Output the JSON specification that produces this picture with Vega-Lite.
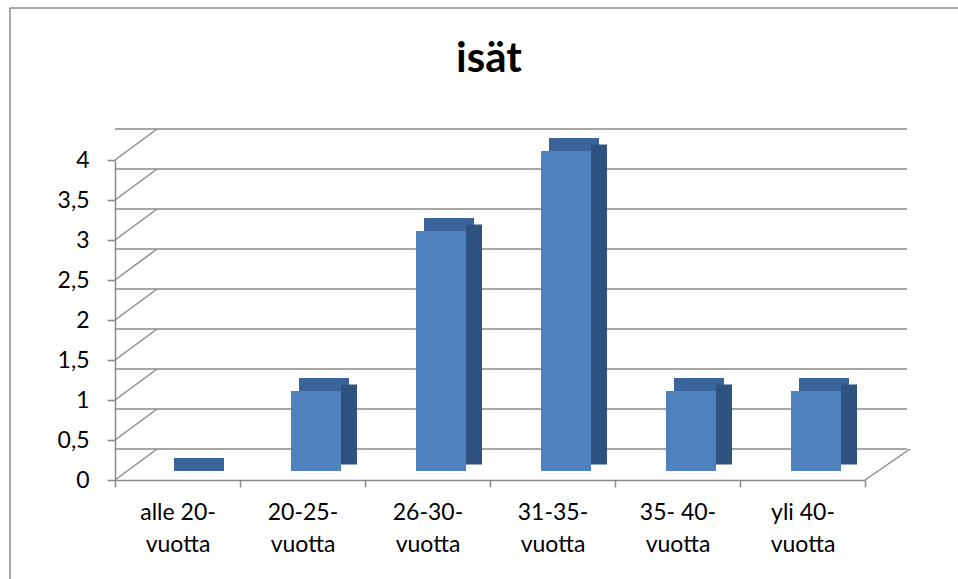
{
  "$schema": "https://vega.github.io/schema/vega-lite/v6.json",
  "width": 750,
  "height": 320,
  "autosize": "none",
  "padding": {"left": 115, "top": 160, "right": 93, "bottom": 99},
  "background": "white",
  "config": {
    "view": {"stroke": null},
    "font": "Lato",
    "axisX": {
      "labelAngle": 0, "tickBand": "extent",
      "labelFont": "Lato", "labelFontSize": 23, "labelColor": "#000000",
      "labelLineHeight": 32, "labelPadding": 14, "labelBaseline": "top",
      "labelOverlap": false,
      "domainColor": "#8a8a8a", "domainWidth": 1.5,
      "tickColor": "#8a8a8a", "tickWidth": 1.5, "tickSize": 7,
      "grid": false
    },
    "axisY": {
      "labelFont": "Lato", "labelFontSize": 23, "labelColor": "#000000",
      "labelPadding": 18, "labelOverlap": false,
      "domainColor": "#8a8a8a", "domainWidth": 1.5,
      "tickColor": "#8a8a8a", "tickWidth": 1.5, "tickSize": 8,
      "grid": false
    }
  },
  "title": {"text": "isät", "fontSize": 42, "fontWeight": "bold", "font": "Lato", "color": "#000000", "offset": -74, "dx": -1},
  "datasets": {
    "bars": [
      {"cat": "alle 20-vuotta", "v": 0},
      {"cat": "20-25-vuotta", "v": 1},
      {"cat": "26-30-vuotta", "v": 3},
      {"cat": "31-35-vuotta", "v": 4},
      {"cat": "35- 40-vuotta", "v": 1},
      {"cat": "yli 40-vuotta", "v": 1}
    ],
    "ticks": [
      {"t": 0}, {"t": 0.5}, {"t": 1}, {"t": 1.5}, {"t": 2},
      {"t": 2.5}, {"t": 3}, {"t": 3.5}, {"t": 4}
    ]
  },
  "data": {"name": "bars"},
  "layer": [
    {
      "data": {"values": [{"k": 1}]},
      "mark": {"type": "rule", "color": "#8c8c8c", "strokeWidth": 1.5},
      "encoding": {"x": {"value": -105}, "y": {"value": -152}, "y2": {"value": 430}}
    },
    {
      "data": {"values": [{"k": 1}]},
      "mark": {"type": "rule", "color": "#8c8c8c", "strokeWidth": 1.5},
      "encoding": {"x": {"value": -105}, "x2": {"value": 850}, "y": {"value": -152}}
    },
    {
      "data": {"name": "ticks"},
      "mark": {"type": "rule", "color": "#8a8a8a", "strokeWidth": 1.5, "xOffset": 42, "x2Offset": 42, "yOffset": -31},
      "encoding": {
        "y": {
          "field": "t", "type": "quantitative", "title": null,
          "scale": {"domain": [0, 4], "nice": false},
          "axis": {
            "values": [0, 0.5, 1, 1.5, 2, 2.5, 3, 3.5, 4],
            "labelOverlap": false,
            "labelExpr": "replace(format(datum.value, ''), '.', ',')"
          }
        }
      }
    },
    {
      "data": {"name": "ticks"},
      "mark": {"type": "rule", "color": "#8a8a8a", "strokeWidth": 1.5, "x2Offset": 42, "y2Offset": -31},
      "encoding": {
        "x": {"value": 0},
        "x2": {"value": 0},
        "y": {
          "field": "t", "type": "quantitative", "title": null,
          "axis": {
            "values": [0, 0.5, 1, 1.5, 2, 2.5, 3, 3.5, 4],
            "labelOverlap": false,
            "labelExpr": "replace(format(datum.value, ''), '.', ',')"
          }
        },
        "y2": {"field": "t"}
      }
    },
    {
      "data": {"values": [{"t": 0}]},
      "mark": {"type": "rule", "color": "#8a8a8a", "strokeWidth": 1.5, "x2Offset": 45, "y2Offset": -31},
      "encoding": {
        "x": {"value": 750},
        "x2": {"value": 750},
        "y": {
          "field": "t", "type": "quantitative", "title": null,
          "axis": {
            "values": [0, 0.5, 1, 1.5, 2, 2.5, 3, 3.5, 4],
            "labelOverlap": false,
            "labelExpr": "replace(format(datum.value, ''), '.', ',')"
          }
        },
        "y2": {"field": "t"}
      }
    },
    {
      "mark": {"type": "bar", "color": "#3A659A", "width": 50, "xOffset": 21.5, "yOffset": -22, "y2Offset": -9},
      "encoding": {
        "x": {
          "field": "cat", "type": "nominal", "sort": null, "title": null,
          "axis": {
            "labelOverlap": false,
            "labelExpr": "datum.label ? [replace(datum.label, 'vuotta', ''), 'vuotta'] : ''"
          }
        },
        "y": {
          "field": "v", "type": "quantitative", "title": null,
          "axis": {
            "values": [0, 0.5, 1, 1.5, 2, 2.5, 3, 3.5, 4],
            "labelOverlap": false,
            "labelExpr": "replace(format(datum.value, ''), '.', ',')"
          }
        },
        "y2": {"field": "v"}
      }
    },
    {
      "mark": {"type": "bar", "color": "#2F5381", "width": 16, "xOffset": 46.5, "yOffset": -15.5, "y2Offset": -15.5},
      "encoding": {
        "x": {
          "field": "cat", "type": "nominal", "sort": null, "title": null,
          "axis": {
            "labelOverlap": false,
            "labelExpr": "datum.label ? [replace(datum.label, 'vuotta', ''), 'vuotta'] : ''"
          }
        },
        "y": {
          "field": "v", "type": "quantitative", "title": null,
          "axis": {
            "values": [0, 0.5, 1, 1.5, 2, 2.5, 3, 3.5, 4],
            "labelOverlap": false,
            "labelExpr": "replace(format(datum.value, ''), '.', ',')"
          }
        },
        "y2": {"datum": 0}
      }
    },
    {
      "mark": {"type": "bar", "color": "#4F81BD", "width": 50, "xOffset": 13.5, "yOffset": -9, "y2Offset": -9},
      "encoding": {
        "x": {
          "field": "cat", "type": "nominal", "sort": null, "title": null,
          "scale": {"paddingInner": 0, "paddingOuter": 0},
          "axis": {
            "labelOverlap": false,
            "labelExpr": "datum.label ? [replace(datum.label, 'vuotta', ''), 'vuotta'] : ''"
          }
        },
        "y": {
          "field": "v", "type": "quantitative", "title": null,
          "axis": {
            "values": [0, 0.5, 1, 1.5, 2, 2.5, 3, 3.5, 4],
            "labelOverlap": false,
            "labelExpr": "replace(format(datum.value, ''), '.', ',')"
          }
        },
        "y2": {"datum": 0}
      }
    }
  ]
}
